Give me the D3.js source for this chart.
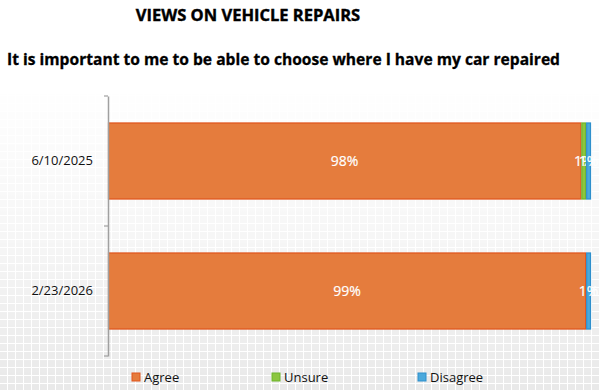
<!DOCTYPE html>
<html>
<head>
<meta charset="utf-8">
<script src="https://cdn.jsdelivr.net/npm/d3@7"></script>
<style>
  body { margin: 0; background: #fff; }
  svg { display: block; font-family: "Open Sans", "Noto Sans", sans-serif; }
</style>
</head>
<body>
<div id="chart"></div>
<script>
const categories = ["6/10/2025", "2/23/2026"];
const seriesNames = ["Agree", "Unsure", "Disagree"];
const agree = [98, 99];
const unsure = [1, 0];
const disagree = [1, 1];

const width = 600, height = 390;
const colors = ["#e57c3d", "#8cc63f", "#4ba9dc"];
const strokes = ["#e0541c", "#6db32c", "#2e8fcc"];

const svg = d3.select("#chart").append("svg")
    .attr("width", width)
    .attr("height", height);

// faint mosaic background, fading in toward the bottom
const defs = svg.append("defs");
const pat = defs.append("pattern")
    .attr("id", "tiles")
    .attr("width", 8).attr("height", 8)
    .attr("patternUnits", "userSpaceOnUse");
pat.append("rect").attr("width", 7).attr("height", 7).attr("fill", "#e9e9e9");
const grad = defs.append("linearGradient")
    .attr("id", "fade").attr("x1", 0).attr("y1", 0).attr("x2", 0).attr("y2", 1);
grad.append("stop").attr("offset", "0.22").attr("stop-color", "#fff").attr("stop-opacity", 0);
grad.append("stop").attr("offset", "0.6").attr("stop-color", "#fff").attr("stop-opacity", 0.4);
grad.append("stop").attr("offset", "1").attr("stop-color", "#fff").attr("stop-opacity", 1);
const mask = defs.append("mask").attr("id", "fadeMask");
mask.append("rect").attr("width", width).attr("height", height).attr("fill", "url(#fade)");
svg.append("rect")
    .attr("width", width).attr("height", height)
    .attr("fill", "url(#tiles)")
    .attr("mask", "url(#fadeMask)");

svg.append("text")
    .attr("x", 248).attr("y", 21)
    .attr("text-anchor", "middle")
    .attr("font-size", 16.5).attr("font-weight", "bold")
    .attr("fill", "#000").attr("stroke", "#000").attr("stroke-width", 0.4)
    .text("VIEWS ON VEHICLE REPAIRS");

svg.append("text")
    .attr("x", 7).attr("y", 65)
    .attr("font-size", 15.6).attr("font-weight", "bold")
    .attr("fill", "#000").attr("stroke", "#000").attr("stroke-width", 0.3)
    .text("It is important to me to be able to choose where I have my car repaired");

const x = d3.scaleLinear().domain([0, 100]).range([108, 591]);
const y = d3.scaleBand().domain(categories).range([96, 356]);
const barH = y.step() * 0.585;

const rows = categories.map((c, i) => ({ cat: c, Agree: agree[i], Unsure: unsure[i], Disagree: disagree[i] }));
const stacked = d3.stack().keys(seriesNames)(rows);

const groups = svg.append("g").selectAll("g")
    .data(stacked)
    .join("g");

groups.each(function(s, si) {
  const g = d3.select(this);
  g.selectAll("rect")
    .data(s.filter(d => d[1] - d[0] > 0))
    .join("rect")
    .attr("x", d => x(d[0]) + 0.5)
    .attr("y", d => y(d.data.cat) + (y.bandwidth() - barH) / 2)
    .attr("width", d => Math.max(0, x(d[1]) - x(d[0]) - 1))
    .attr("height", barH)
    .attr("fill", colors[si])
    .attr("stroke", strokes[si])
    .attr("stroke-width", 1.2);
});

groups.each(function(s) {
  d3.select(this).selectAll("text")
    .data(s.filter(d => d[1] - d[0] > 0))
    .join("text")
    .attr("x", d => (x(d[0]) + x(d[1])) / 2)
    .attr("y", d => y(d.data.cat) + y.bandwidth() / 2 + 5)
    .attr("text-anchor", "middle")
    .attr("font-size", 14)
    .attr("fill", "#fff")
    .attr("stroke", "#fff").attr("stroke-width", 0.2)
    .text(d => (d[1] - d[0]) + "%");
});

// category axis
const axis = svg.append("g")
    .attr("transform", "translate(108,0)")
    .call(d3.axisLeft(y).tickSize(0).tickPadding(15));
axis.select(".domain").attr("stroke", "#a0a0a0").attr("stroke-width", 1.5);
axis.selectAll(".tick text")
    .attr("font-size", 13)
    .attr("fill", "#111")
    .attr("font-family", "\"Open Sans\", \"Noto Sans\", sans-serif");

const bounds = [y.range()[0]].concat(categories.map(c => y(c) + y.step()));
axis.selectAll(".bound")
    .data(bounds)
    .join("line")
    .attr("class", "bound")
    .attr("x1", -4).attr("x2", 0)
    .attr("y1", d => d).attr("y2", d => d)
    .attr("stroke", "#a0a0a0")
    .attr("stroke-width", 1.2);

// legend
const legendX = [132, 272, 418];
const legend = svg.append("g").selectAll("g")
    .data(seriesNames)
    .join("g")
    .attr("transform", (d, i) => `translate(${legendX[i]},373)`);
legend.append("rect")
    .attr("width", 8).attr("height", 8)
    .attr("fill", (d, i) => colors[i])
    .attr("stroke", (d, i) => strokes[i])
    .attr("stroke-width", 1);
legend.append("text")
    .attr("x", 12).attr("y", 8.5)
    .attr("font-size", 13)
    .attr("fill", "#111")
    .text(d => d);
</script>
</body>
</html>
